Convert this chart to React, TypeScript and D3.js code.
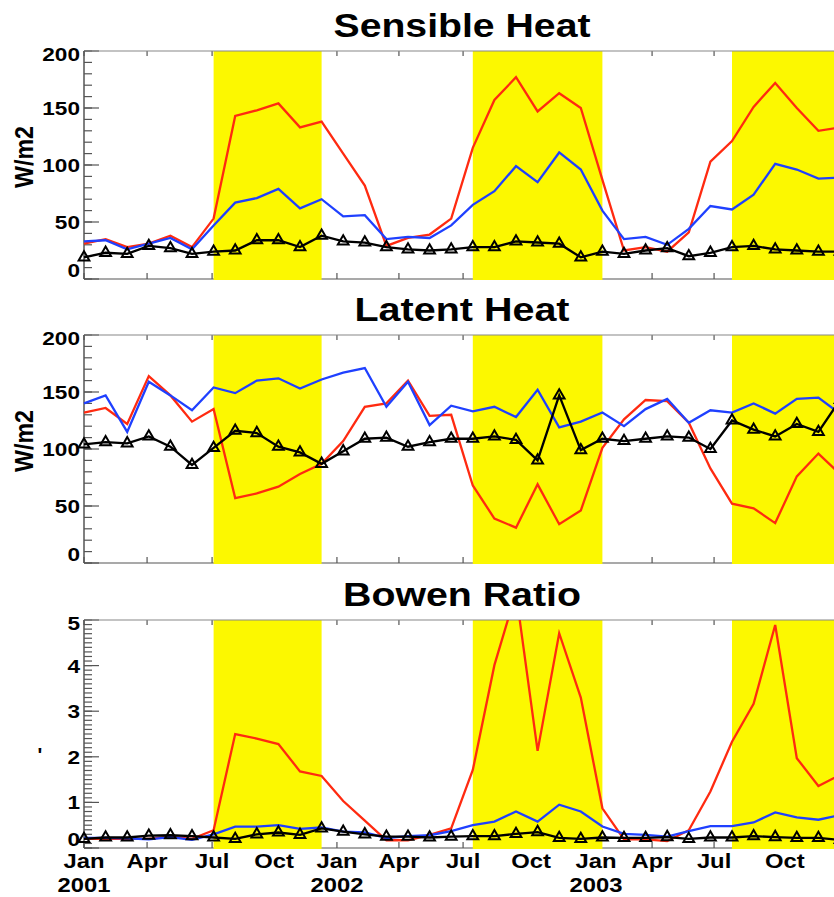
import React from 'react';
import * as d3 from 'd3';

// ---- data (monthly, starting Jan 2001) ----
const sensibleRed = [31, 35, 28, 31, 38, 28, 53, 143, 148, 154, 133, 138, 110, 82, 29, 36, 39, 53, 115, 157, 177, 147, 163, 150, 87, 25, 28, 24, 41, 103, 121, 151, 172, 150, 130, 133];
const sensibleBlue = [33, 34, 26, 31, 36, 26, 47, 67, 71, 79, 62, 70, 55, 56, 35, 37, 36, 47, 65, 77, 99, 85, 111, 96, 60, 35, 37, 30, 44, 64, 61, 74, 101, 96, 88, 89];
const sensibleBlack = [19, 23, 22, 29, 27, 22, 24, 25, 34, 34, 28, 38, 33, 32, 28, 26, 25, 26, 28, 28, 33, 32, 31, 19, 24, 22, 25, 27, 20, 23, 28, 29, 26, 25, 24, 24];

const latentRed = [132, 136, 122, 164, 147, 124, 135, 57, 61, 67, 78, 87, 107, 137, 140, 160, 129, 130, 68, 39, 31, 69, 34, 46, 101, 126, 143, 142, 123, 83, 52, 48, 35, 76, 96, 78];
const latentBlue = [140, 147, 115, 159, 147, 134, 154, 149, 160, 162, 153, 161, 167, 171, 137, 159, 121, 138, 133, 137, 128, 152, 119, 124, 132, 120, 135, 144, 123, 134, 132, 140, 131, 144, 145, 131];
const latentBlack = [104, 106, 105, 111, 102, 86, 101, 116, 114, 102, 97, 87, 98, 109, 110, 102, 106, 109, 109, 111, 108, 90, 147, 99, 109, 107, 109, 111, 110, 100, 125, 117, 111, 122, 115, 143];

const bowenRed = [0.2, 0.2, 0.2, 0.2, 0.25, 0.2, 0.39, 2.5, 2.4, 2.28, 1.68, 1.58, 1.03, 0.6, 0.17, 0.17, 0.29, 0.43, 1.71, 4.01, 5.6, 2.13, 4.71, 3.3, 0.87, 0.19, 0.19, 0.15, 0.39, 1.24, 2.33, 3.16, 4.89, 1.97, 1.36, 1.6];
const bowenBlue = [0.22, 0.22, 0.21, 0.19, 0.24, 0.18, 0.3, 0.47, 0.47, 0.5, 0.42, 0.45, 0.36, 0.34, 0.22, 0.26, 0.28, 0.37, 0.5, 0.58, 0.8, 0.58, 0.95, 0.8, 0.47, 0.31, 0.29, 0.25, 0.37, 0.48, 0.48, 0.56, 0.78, 0.67, 0.62, 0.72];
const bowenBlack = [0.2, 0.23, 0.23, 0.27, 0.28, 0.26, 0.23, 0.2, 0.3, 0.34, 0.29, 0.43, 0.36, 0.3, 0.25, 0.25, 0.23, 0.25, 0.26, 0.26, 0.31, 0.35, 0.22, 0.2, 0.23, 0.22, 0.22, 0.24, 0.2, 0.23, 0.23, 0.26, 0.24, 0.22, 0.22, 0.18];

// shaded periods (month index start, end)
const bandStarts = [6, 18, 30];
const bandEnds = [11, 24, 37];

// x-axis ticks (position in month index units)
const tickPos = [0, 2.92, 5.93, 8.8, 11.71, 14.58, 17.55, 20.7, 23.7, 26.3, 29.17, 32.45];
const tickLabels = ['Jan', 'Apr', 'Jul', 'Oct', 'Jan', 'Apr', 'Jul', 'Oct', 'Jan', 'Apr', 'Jul', 'Oct'];
const yearPos = [0, 11.71, 23.7];
const yearLabels = ['2001', '2002', '2003'];

const titles = ['Sensible Heat', 'Latent Heat', 'Bowen Ratio'];
const yLabels = ['W/m2', 'W/m2', "'"];
const yMax = [200, 200, 5];
const yMajor = [50, 50, 1];
const yMinor = [10, 10, 0.1];

const W = 834;
const H = 897;
const LEFT = 84;
const STEP = 21.6;
const PANEL_TOPS = [51, 335, 620];
const PANEL_H = 228;
const FONT = "'Liberation Sans', Arial, Helvetica, sans-serif";
const RED = '#ff2a10';
const BLUE = '#1f40ff';
const YELLOW = '#fcf800';
const AXIS = '#555';

const x = d3.scaleLinear().domain([0, 35]).range([LEFT, LEFT + 35 * STEP]);

function Panel({ idx }: { idx: number }) {
  const top = PANEL_TOPS[idx];
  const bottom = top + PANEL_H;
  const series = idx === 0 ? [sensibleRed, sensibleBlue, sensibleBlack]
    : idx === 1 ? [latentRed, latentBlue, latentBlack]
    : [bowenRed, bowenBlue, bowenBlack];
  const y = d3.scaleLinear().domain([0, yMax[idx]]).range([bottom, top]);
  const line = d3.line<number>().x((_, i) => x(i)).y((d) => y(d));
  const majors = d3.range(0, yMax[idx] + 1e-9, yMajor[idx]);
  const nMinor = Math.round(yMax[idx] / yMinor[idx]);
  const minors = d3.range(0, nMinor + 1).map((k) => k * yMinor[idx]);
  const tri = d3.symbol(d3.symbolTriangle, 50)() as string;
  const clipId = `clip${idx}`;
  const fmt = (v: number) => String(Math.round(v));
  return (
    <g>
      <defs>
        <clipPath id={clipId}>
          <rect x={0} y={top} width={W} height={PANEL_H} />
        </clipPath>
      </defs>
      {/* title */}
      <text
        x={462}
        y={top - 14}
        textAnchor="middle"
        fontFamily={FONT}
        fontWeight="bold"
        fontSize={34}
        textLength={idx === 0 ? 257 : idx === 1 ? 215 : 238}
        lengthAdjust="spacingAndGlyphs"
        fill="#000"
      >
        {titles[idx]}
      </text>
      {/* y label */}
      {idx < 2 ? (
        <text
          transform={`translate(33,${top + 106}) rotate(-90)`}
          textAnchor="middle"
          fontFamily={FONT}
          fontWeight="bold"
          fontSize={25}
          textLength={62}
          lengthAdjust="spacingAndGlyphs"
          fill="#000"
        >
          {yLabels[idx]}
        </text>
      ) : (
        <text x={40} y={top + 142} textAnchor="middle" fontFamily={FONT} fontWeight="bold" fontSize={20} fill="#000">
          {yLabels[idx]}
        </text>
      )}
      {/* y ticks */}
      {minors.map((v, i) => (
        <line key={'mi' + i} x1={LEFT} x2={LEFT + 8} y1={y(v)} y2={y(v)} stroke={AXIS} strokeWidth={1.2} />
      ))}
      {majors.map((v, i) => (
        <line key={'ma' + i} x1={LEFT} x2={LEFT + 15} y1={y(v)} y2={y(v)} stroke={AXIS} strokeWidth={1.2} />
      ))}
      {majors.map((v, i) => {
        const dy = i === 0 ? -9 : i === majors.length - 1 ? 3 : 0;
        return (
          <text
            key={'yl' + i}
            transform={`translate(80,${y(v) + dy + 7}) scale(1.19,1)`}
            textAnchor="end"
            fontFamily={FONT}
            fontWeight="bold"
            fontSize={19}
            fill="#000"
          >
            {fmt(v)}
          </text>
        );
      })}
      {/* x ticks */}
      {tickPos.map((p, i) => (
        <g key={'xt' + i}>
          <line x1={x(p)} x2={x(p)} y1={top} y2={top + 5} stroke={AXIS} strokeWidth={1.2} />
          <line x1={x(p)} x2={x(p)} y1={bottom} y2={bottom - 6} stroke={AXIS} strokeWidth={1.2} />
        </g>
      ))}
      {/* bottom border */}
      <line x1={LEFT} x2={W} y1={bottom} y2={bottom} stroke={AXIS} strokeWidth={1.2} />
      {/* shaded bands */}
      {bandStarts.map((s, i) => (
        <rect key={'b' + i} x={x(s)} y={top} width={x(bandEnds[i]) - x(s)} height={PANEL_H + 1} fill={YELLOW} />
      ))}
      {/* top border & left axis */}
      <line x1={LEFT} x2={W} y1={top} y2={top} stroke="#888" strokeWidth={1.2} />
      <line x1={LEFT} x2={LEFT} y1={top} y2={bottom} stroke={AXIS} strokeWidth={1.5} />
      {/* data */}
      <g clipPath={`url(#${clipId})`}>
        <path d={line(series[0]) as string} fill="none" stroke={RED} strokeWidth={2.3} />
        <path d={line(series[1]) as string} fill="none" stroke={BLUE} strokeWidth={2.3} />
        <path d={line(series[2]) as string} fill="none" stroke="#000" strokeWidth={2.3} />
      </g>
      {series[2].map((v, i) => (
        <path
          key={'m' + i}
          d={tri}
          transform={`translate(${x(i)},${y(v)})`}
          fill="none"
          stroke="#000"
          strokeWidth={2}
        />
      ))}
    </g>
  );
}

export default function App() {
  const bottom = PANEL_TOPS[2] + PANEL_H;
  return (
    <svg
      width={W}
      height={H}
      viewBox={`0 0 ${W} ${H}`}
      style={{ position: 'absolute', left: 0, top: 0, background: '#fff' }}
    >
      <rect x={0} y={0} width={W} height={H} fill="#fff" />
      <Panel idx={0} />
      <Panel idx={1} />
      <Panel idx={2} />
      {tickPos.map((p, i) => (
        <text
          key={'xl' + i}
          transform={`translate(${x(p)},${bottom + 20}) scale(1.19,1)`}
          textAnchor="middle"
          fontFamily={FONT}
          fontWeight="bold"
          fontSize={20}
          fill="#000"
        >
          {tickLabels[i]}
        </text>
      ))}
      {yearPos.map((p, i) => (
        <text
          key={'yr' + i}
          transform={`translate(${x(p)},${bottom + 44}) scale(1.19,1)`}
          textAnchor="middle"
          fontFamily={FONT}
          fontWeight="bold"
          fontSize={20}
          fill="#000"
        >
          {yearLabels[i]}
        </text>
      ))}
    </svg>
  );
}
